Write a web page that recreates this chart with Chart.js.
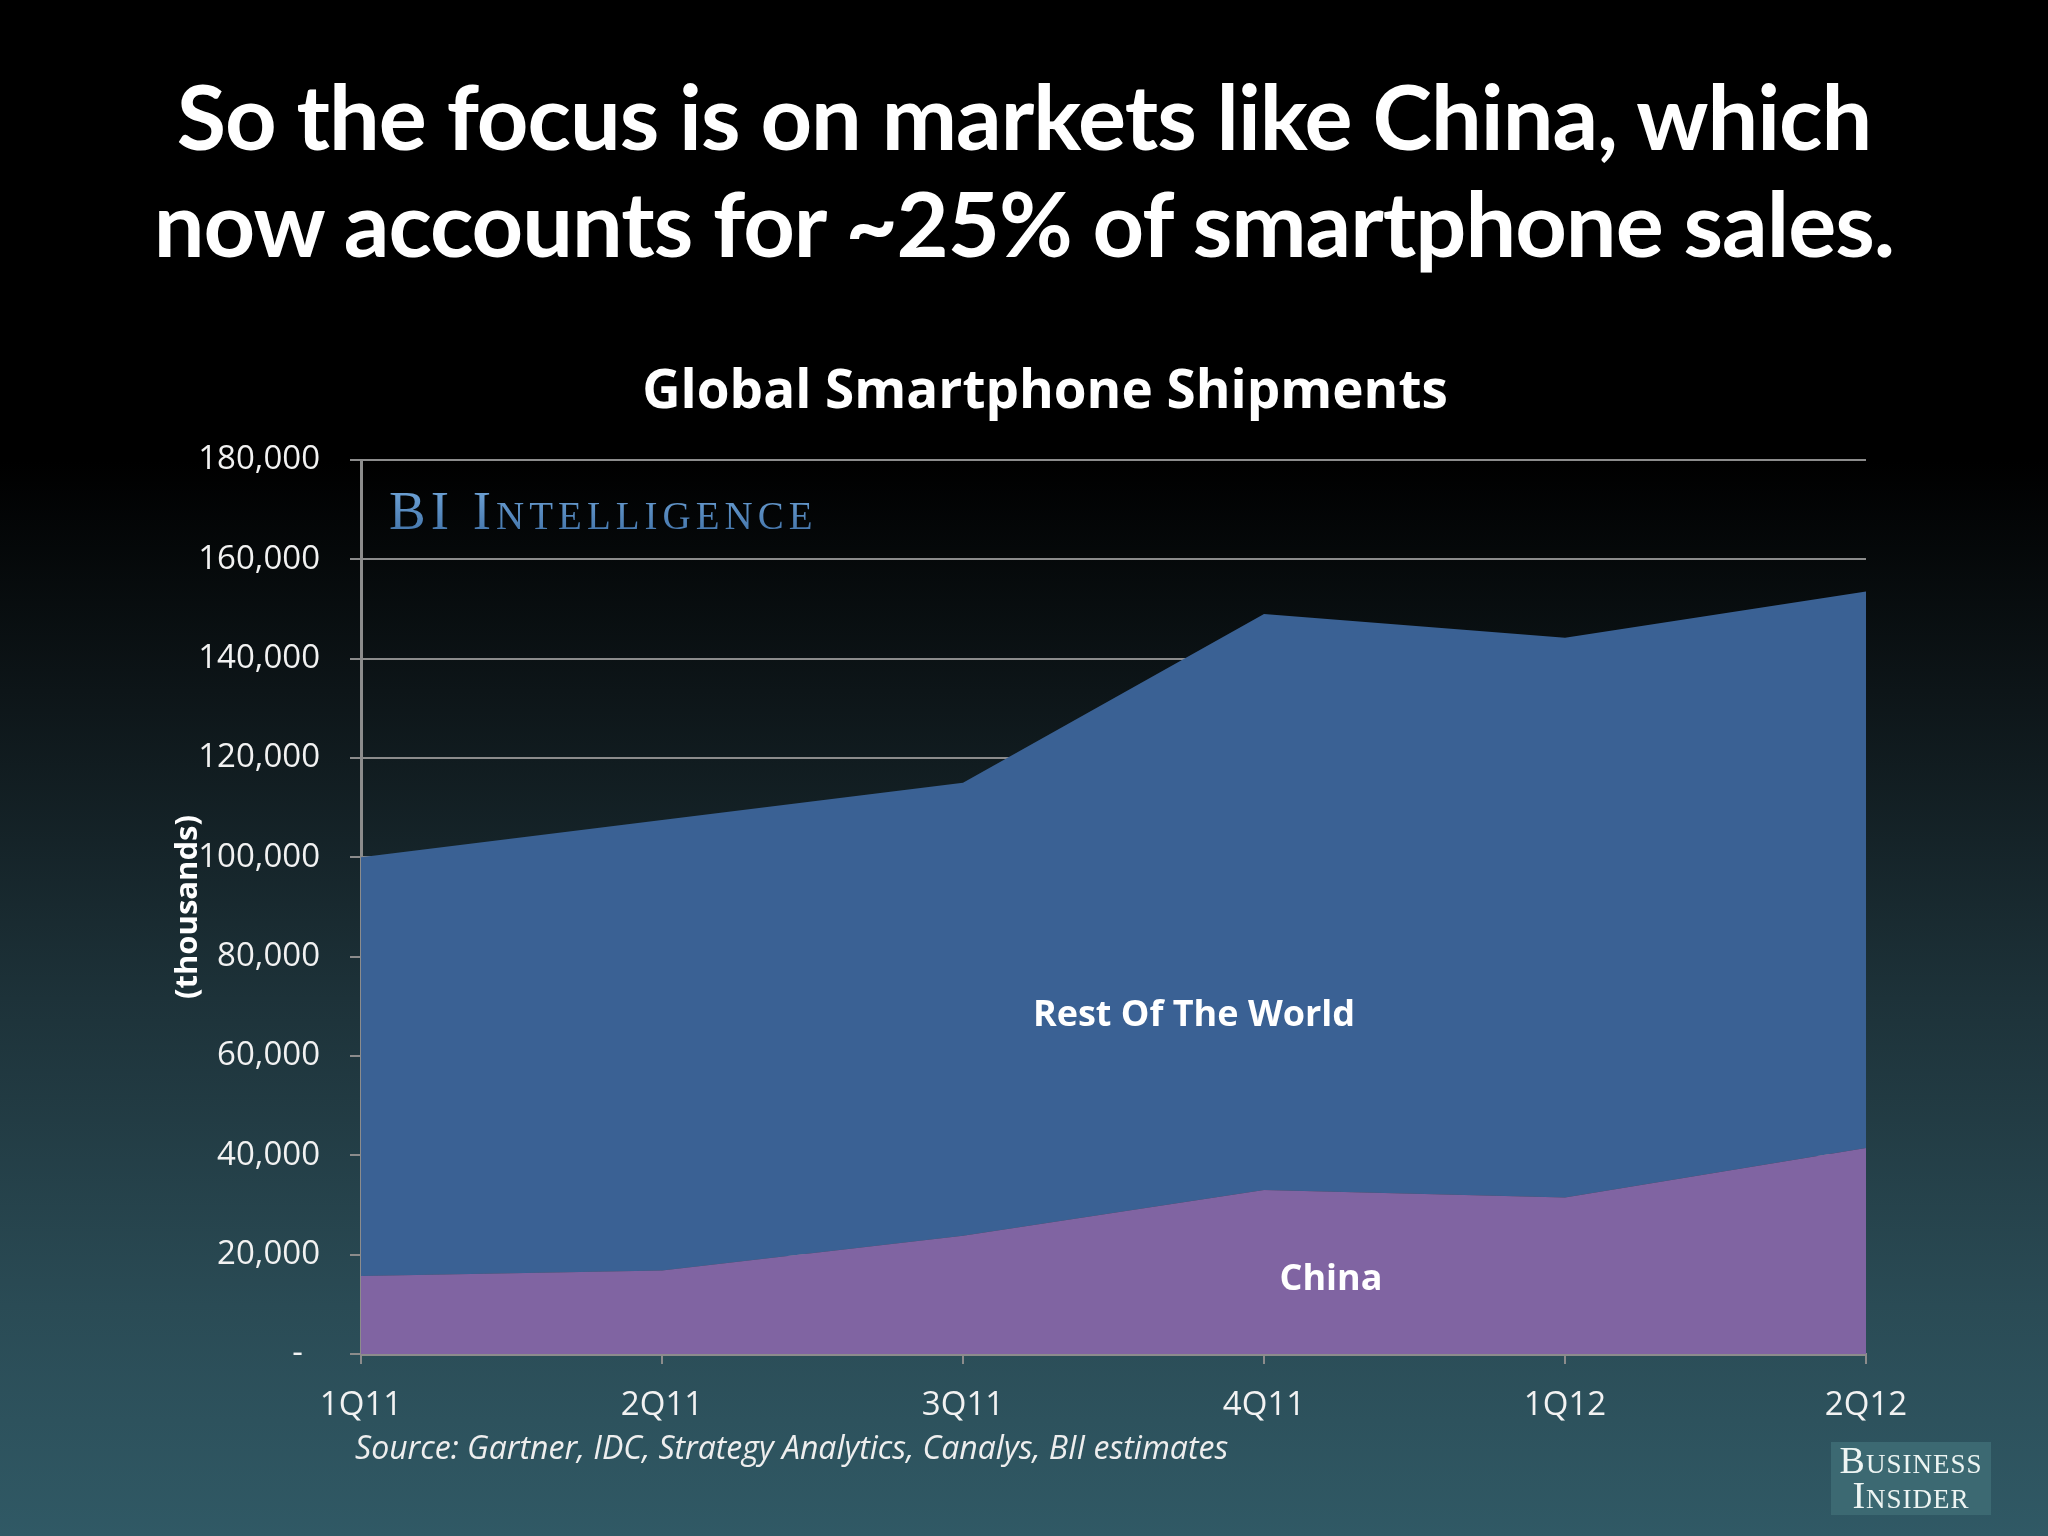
<!DOCTYPE html>
<html>
<head>
<meta charset="utf-8">
<script src="https://cdn.jsdelivr.net/npm/chart.js@4.4.1/dist/chart.umd.min.js"></script>
<style>
  html, body { margin: 0; padding: 0; }
  body {
    width: 2048px; height: 1536px; overflow: hidden; position: relative;
    background: linear-gradient(to bottom, #000 0%, #000 30%, #0d1518 45%, #1d3239 65%, #2a4b55 85%, #305965 100%);
    font-family: Lato, "Open Sans", sans-serif; color: #fff;
  }
  .titulo {
    position: absolute; left: 0; width: 2048px; text-align: center;
    font-weight: 700; font-size: 90px; line-height: 90px; letter-spacing: -1px; white-space: nowrap;
  }
  .subtitulo {
    position: absolute; left: 1045px; top: 387px; transform: translate(-50%, -50%);
    font-family: "Open Sans", sans-serif; font-weight: 700; font-size: 53px; white-space: nowrap;
  }
  #grafico { position: absolute; left: 0; top: 0; }
  .fonte {
    position: absolute; left: 355px; top: 1425px; font-style: italic;
    font-size: 32px; font-family: "Open Sans", sans-serif; color: #eee;
  }
  .bi {
    position: absolute; left: 389px; top: 483px; line-height: 1;
    font-family: "Liberation Serif", "DejaVu Serif", serif; font-size: 55px;
    font-variant: small-caps; letter-spacing: 5px; white-space: nowrap;
    color: #5a93cb;
    background: linear-gradient(to bottom, #74a9dc, #3f70a6);
    -webkit-background-clip: text; background-clip: text; -webkit-text-fill-color: transparent;
  }
  .bizlogo {
    position: absolute; left: 1831px; top: 1442px; width: 160px; height: 72px;
    background: #3c6972; color: #eef5f3; text-align: center;
    font-family: "Liberation Serif", "DejaVu Serif", serif; font-variant: small-caps;
    font-size: 38px; line-height: 35px; letter-spacing: 1px; padding-top: 1px;
  }
  .rotulo { position: absolute; font-weight: 700; font-family: "Open Sans", sans-serif; white-space: nowrap; transform: translate(-50%, -50%); }
</style>
</head>
<body>
<div class="titulo" style="top:70px">So the focus is on markets like China, which</div>
<div class="titulo" style="top:177px">now accounts for ~25% of smartphone sales.</div>
<div class="subtitulo">Global Smartphone Shipments</div>
<canvas id="grafico" width="2048" height="1536"></canvas>
<div class="bi">BI Intelligence</div>
<div class="rotulo" style="left:1194px; top:1012px; font-size:36px">Rest Of The World</div>
<div class="rotulo" style="left:1331px; top:1276px; font-size:36px">China</div>
<div class="fonte">Source: Gartner, IDC, Strategy Analytics, Canalys, BII estimates</div>
<div class="bizlogo">Business<br>Insider</div>
<script>
// Dados (milhares de unidades)
const trimestres = ['1Q11', '2Q11', '3Q11', '4Q11', '1Q12', '2Q12'];
const china = [15700, 16800, 23800, 33000, 31500, 41500];
const restoMundo = [84300, 90700, 91200, 116000, 112700, 112000];
const yTicks = [0, 20000, 40000, 60000, 80000, 100000, 120000, 140000, 160000, 180000];

const cinza = '#8c8c8c';
const textoEixo = { family: "'Open Sans', sans-serif", size: 33 };

const ctx = document.getElementById('grafico').getContext('2d');
Chart.defaults.color = '#f2f2f2';

new Chart(ctx, {
    type: 'line',
    data: {
        labels: trimestres,
        datasets: [
            {
                label: 'China',
                data: china,
                backgroundColor: '#8064a2',
                borderWidth: 0,
                pointRadius: 0,
                fill: 'origin'
            },
            {
                label: 'Rest Of The World',
                data: restoMundo,
                backgroundColor: '#3a6194',
                borderWidth: 0,
                pointRadius: 0,
                fill: '-1'
            }
        ]
    },
    options: {
        responsive: false,
        animation: false,
        layout: { padding: { left: 150, top: 460, right: 182, bottom: 0 } },
        plugins: {
            legend: { display: false },
            tooltip: { enabled: false },
            title: { display: false }
        },
        scales: {
            x: {
                offset: false,
                grid: { drawOnChartArea: false, color: cinza, lineWidth: 2, tickLength: 10 },
                border: { color: cinza, width: 3 },
                ticks: { font: textoEixo, padding: 22, maxRotation: 0 },
                afterFit: function(scale) { scale.height = 182; }
            },
            y: {
                stacked: true,
                min: 0,
                max: 180000,
                grid: { color: cinza, lineWidth: 2, tickLength: 11 },
                border: { color: cinza, width: 3 },
                afterBuildTicks: function(scale) {
                    scale.ticks = yTicks.map(v => ({ value: v }));
                },
                ticks: {
                    font: textoEixo,
                    padding: 30,
                    callback: function(v) { return v === 0 ? '-  ' : v.toLocaleString('en-US'); }
                },
                title: {
                    display: true,
                    text: '(thousands)',
                    color: '#fff',
                    font: { family: "'Open Sans', sans-serif", size: 31, weight: 'bold' },
                    padding: { top: 20, bottom: 0 }
                },
                afterFit: function(scale) { scale.width = 211; }
            }
        }
    }
});
</script>
</body>
</html>
